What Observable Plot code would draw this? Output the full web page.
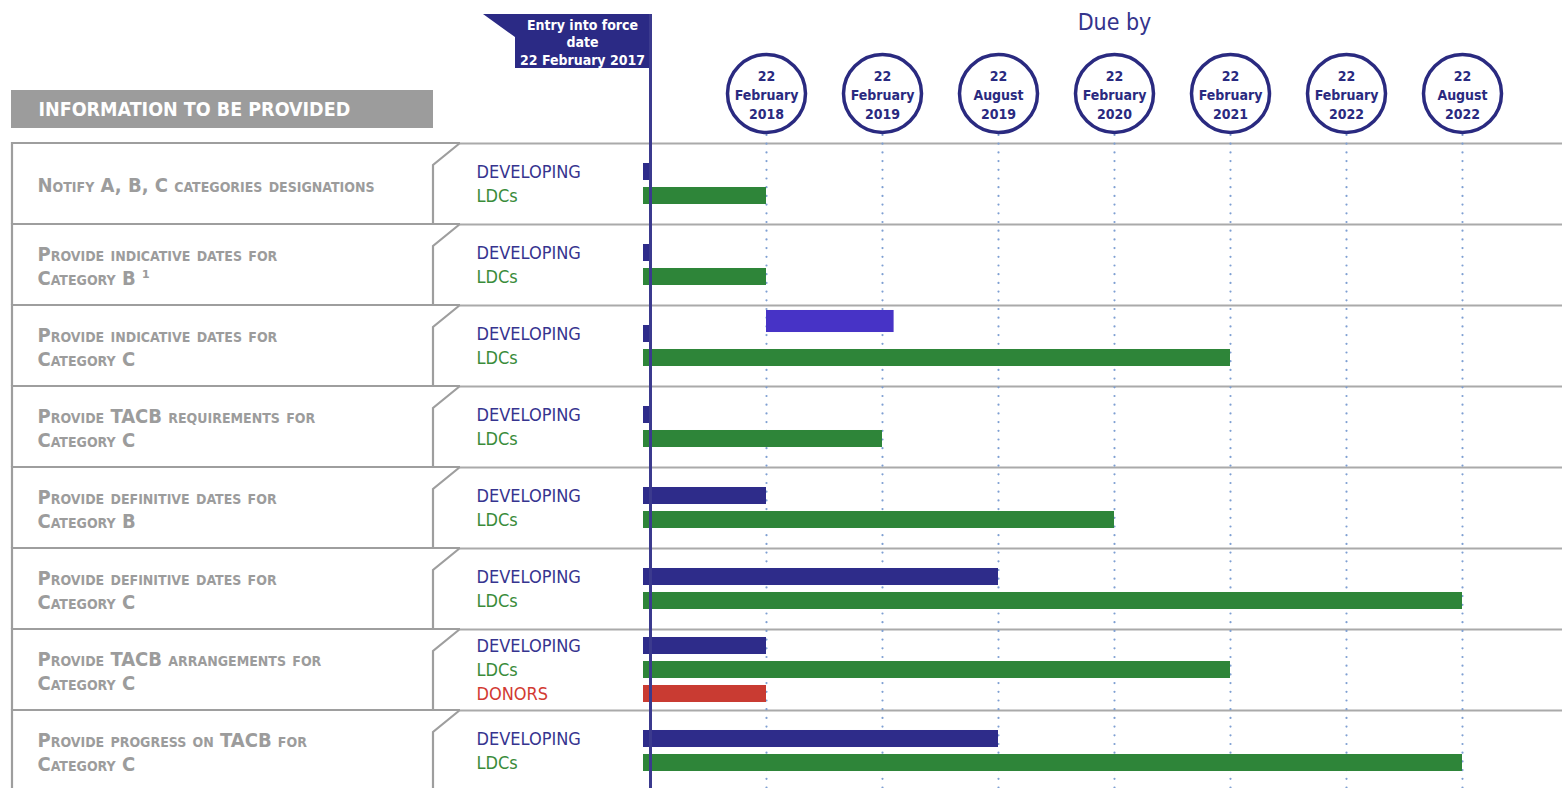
<!DOCTYPE html>
<html><head><meta charset="utf-8">
<script src="https://cdn.jsdelivr.net/npm/d3@7"></script>
<script src="https://cdn.jsdelivr.net/npm/@observablehq/plot@0.6"></script>
<style>
html,body{margin:0;padding:0;background:#fff;}
#chart svg{display:block;}
</style></head><body><div id="chart"></div>
<script>
// ---- data ----
const milestones = ["22 February 2017", "22 February 2018", "22 February 2019", "22 August 2019",
  "22 February 2020", "22 February 2021", "22 February 2022", "22 August 2022"];
const items = [
  "Notify A, B, C categories designations",
  "Provide indicative dates for\nCategory B \u00b9",
  "Provide indicative dates for\nCategory C",
  "Provide TACB requirements for\nCategory C",
  "Provide definitive dates for\nCategory B",
  "Provide definitive dates for\nCategory C",
  "Provide TACB arrangements for\nCategory C",
  "Provide progress on TACB for\nCategory C"
];
const seriesNames = ["DEVELOPING", "LDCs", "DONORS"];
// end of each bar, as milestone index (0 = entry into force)
const developingEnd = [0, 0, 0, 0, 1, 3, 1, 3];
const ldcEnd        = [1, 1, 5, 2, 4, 7, 5, 7];
const donorsEnd     = [null, null, null, null, null, null, 1, null];
// extra bar in row "indicative dates for Category C"
const highlightRow = 2, highlightStart = 1, highlightEnd = 2.1;

const barColors = {DEVELOPING: "#2e2c8a", LDCs: "#2e8539", DONORS: "#c93b32"};
const labelColors = {DEVELOPING: "#36348f", LDCs: "#3a8c3a", DONORS: "#d23a32"};

// ---- tables ----
const ends = {DEVELOPING: developingEnd, LDCs: ldcEnd, DONORS: donorsEnd};
const slot = 24 / 81;
const bars = [];
items.forEach((_, i) => {
  const present = seriesNames.filter(s => ends[s][i] != null);
  present.forEach((s, k) => bars.push({
    row: i, series: s, start: 0, end: ends[s][i],
    y: i + 0.5 + (k - (present.length - 1) / 2) * slot
  }));
});
const ms = milestones.map((m, i) => {
  const [d, mo, yr] = m.split(" ");
  return {i, label: `${d}\n${mo}\n${yr}`, full: m};
});
const due = ms.slice(1);
const rowsTable = items.map((label, i) => ({i, label}));
const edges = d3.range(items.length + 1);

const FONT = '"Liberation Sans Narrow", "Arial Narrow", "DejaVu Sans Condensed", sans-serif';

// decorative shapes
function decor(index, scales, values, dims) {
  const g = d3.create("svg:g");
  // header box
  g.append("rect").attr("x", 11).attr("y", 90).attr("width", 422).attr("height", 38).attr("fill", "#9c9c9c");
  // row boxes
  const y = scales.y;
  items.forEach((_, i) => {
    const t = y(i), b = y(i + 1);
    g.append("path")
      .attr("d", `M460,${t}L12,${t}L12,${b}M433,${b}L433,${t + 22}L460,${t}`)
      .attr("fill", "none").attr("stroke", "#9e9e9e").attr("stroke-width", 2.2);
  });
  // entry-into-force flag
  const x0 = scales.x(0) + 2;
  g.append("path")
    .attr("d", `M483,14L515,37L515,68L${x0},68L${x0},14Z`)
    .attr("fill", "#2b2a85");
  return g.node();
}

const chart = Plot.plot({
  width: 1562, height: 788, margin: 0,
  x: {domain: [0, milestones.length - 1], range: [650, 1462], axis: null},
  y: {domain: [0, items.length], range: [143, 791], axis: null},
  style: {fontFamily: FONT, background: "white", overflow: "visible"},
  marks: [
    decor,
    Plot.ruleY(edges, {y: d => d, insetLeft: 460, stroke: "#aaaaaa", strokeWidth: 2}),
    Plot.ruleX(due, {x: "i", insetTop: 135, stroke: "#7e9fd2", strokeWidth: 2.2,
      strokeDasharray: "0 8.7", strokeLinecap: "round"}),
    Plot.rect(bars, {x1: "start", x2: "end", y1: d => d.y - 0.105, y2: d => d.y + 0.105,
      fill: d => barColors[d.series], insetLeft: -7}),
    Plot.rect([{row: highlightRow}], {x1: () => highlightStart, x2: () => highlightEnd,
      y1: d => d.row + 16 / 81 - 0.136, y2: d => d.row + 16 / 81 + 0.136, fill: "#4733c6"}),
    Plot.ruleX([ms[0]], {x: "i", insetTop: 14, stroke: "#3b3a8e", strokeWidth: 3}),
    Plot.dot(due, {x: "i", frameAnchor: "top", dy: 93, r: 39, stroke: "#2a2a80",
      strokeWidth: 3.5, fill: "white"}),
    Plot.text(due, {x: "i", text: "label", frameAnchor: "top", dy: 93, fontSize: 14,
      fontWeight: "bold", fill: "#2a2a80", lineHeight: 1.36, lineAnchor: "middle"}),
    Plot.text([ms[0]], {x: "i", text: d => "Entry into force\ndate\n" + d.full, frameAnchor: "top",
      dy: 41, dx: -68, fontSize: 14, fontWeight: "bold", fill: "white", lineHeight: 1.25,
      lineAnchor: "middle"}),
    Plot.text(["Due by"], {x: () => (due[0].i + due[due.length - 1].i) / 2, frameAnchor: "top",
      dy: 22, fontSize: 23, fill: "#34348c", lineAnchor: "middle"}),
    Plot.text(["INFORMATION TO BE PROVIDED"], {frameAnchor: "top-left", dx: 38, dy: 109,
      fontSize: 19.5, fontWeight: "bold", fill: "white", textAnchor: "start", lineAnchor: "middle"}),
    Plot.text(rowsTable, {y: d => d.i + 0.5, text: "label", frameAnchor: "left", dx: 37,
      textAnchor: "start", lineAnchor: "middle", fontSize: 20, fontWeight: "bold",
      fontVariant: "small-caps", fill: "#9c9c9c", lineHeight: 1.2}),
    Plot.text(bars, {y: "y", text: "series", frameAnchor: "left", dx: 476, textAnchor: "start",
      lineAnchor: "middle", fontSize: 18, fill: d => labelColors[d.series]})
  ]
});
document.getElementById("chart").append(chart);
</script>
</body></html>
